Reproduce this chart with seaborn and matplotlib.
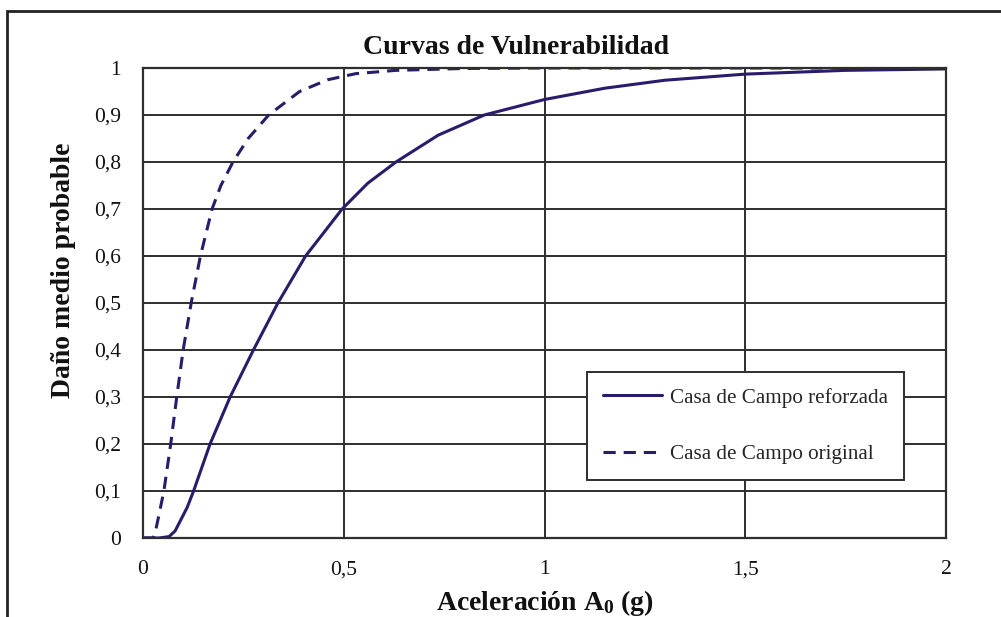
import numpy as np
import pandas as pd
import matplotlib
matplotlib.use("Agg")
import matplotlib.pyplot as plt
from matplotlib.ticker import FuncFormatter, MultipleLocator
import seaborn as sns

# Vulnerability curves: mean probable damage vs ground acceleration
acc_reforzada = [0, 0.04, 0.065, 0.08, 0.095, 0.11, 0.126, 0.167, 0.217, 0.275,
                 0.336, 0.405, 0.496, 0.56, 0.63, 0.735, 0.85, 1.0, 1.15,
                 1.3, 1.5, 1.75, 2.0]
dano_reforzada = [0, 0, 0.003, 0.015, 0.04, 0.065, 0.1, 0.2, 0.3, 0.4,
                  0.5, 0.6, 0.7, 0.755, 0.8, 0.857, 0.9, 0.933, 0.957,
                  0.974, 0.987, 0.995, 0.998]

acc_original = [0, 0.025, 0.03, 0.04, 0.052, 0.069, 0.084, 0.1, 0.12, 0.143,
                0.172, 0.194, 0.224, 0.262, 0.313, 0.39, 0.46, 0.53, 0.63,
                0.8, 1.0, 1.5, 2.0]
dano_original = [0, 0, 0.01, 0.05, 0.1, 0.2, 0.3, 0.4, 0.5, 0.6,
                 0.7, 0.75, 0.8, 0.85, 0.9, 0.95, 0.975, 0.988, 0.995,
                 0.999, 1.0, 1.0, 1.0]

label_reforzada = "Casa de Campo reforzada"
label_original = "Casa de Campo original"

sns.set_theme(style="white")
plt.rcParams["font.family"] = ["Liberation Serif", "DejaVu Serif"]
plt.rcParams["mathtext.fontset"] = "custom"
plt.rcParams["mathtext.rm"] = "Liberation Serif"
plt.rcParams["mathtext.bf"] = "Liberation Serif:bold"

line_color = "#2b1b6b"
grid_color = "#2e2e2e"
text_color = "#111111"

df_ref = pd.DataFrame({"acc": acc_reforzada, "dano": dano_reforzada})
df_ori = pd.DataFrame({"acc": acc_original, "dano": dano_original})

fig = plt.figure(figsize=(10.01, 6.17), dpi=100)
ax = fig.add_axes([143 / 1001, 1 - 538 / 617, (946 - 143) / 1001, (538 - 68) / 617])

sns.lineplot(data=df_ref, x="acc", y="dano", ax=ax, color=line_color,
             linewidth=2.2, label=label_reforzada)
sns.lineplot(data=df_ori, x="acc", y="dano", ax=ax, color=line_color,
             linewidth=2.2, label=label_original)
ax.lines[1].set_linestyle((0, (4, 2.6)))
for ln in ax.lines:
    ln.set_solid_joinstyle("round")
    ln.set_dash_joinstyle("round")

ax.set_xlim(0, 2)
ax.set_ylim(0, 1)
ax.xaxis.set_major_locator(MultipleLocator(0.5))
ax.yaxis.set_major_locator(MultipleLocator(0.1))

def comma_fmt(v, pos):
    s = f"{v:.1f}".rstrip("0").rstrip(".")
    return s.replace(".", ",")

ax.xaxis.set_major_formatter(FuncFormatter(comma_fmt))
ax.yaxis.set_major_formatter(FuncFormatter(comma_fmt))
ax.tick_params(axis="both", which="major", length=0, labelsize=15.5,
               labelcolor=text_color)
ax.tick_params(axis="x", pad=16)
ax.tick_params(axis="y", pad=16)

ax.grid(True, which="major", color=grid_color, linewidth=1.4)
ax.set_axisbelow(True)
for sp in ax.spines.values():
    sp.set_visible(True)
    sp.set_color(grid_color)
    sp.set_linewidth(1.6)

ax.set_title("Curvas de Vulnerabilidad", fontsize=20, fontweight="bold",
             pad=10, color=text_color, x=0.465)
ax.set_xlabel(r"Aceleración $\mathbf{A_0}$ (g)", fontsize=20,
              fontweight="bold", labelpad=6, color=text_color)
ax.set_ylabel("Daño medio probable", fontsize=20, fontweight="bold",
              color=text_color)
ax.yaxis.set_label_coords(-0.083, 0.57)

leg = ax.legend(loc="lower left", bbox_to_anchor=(0.553, 0.123),
                fontsize=15.2, frameon=True, fancybox=False,
                borderpad=0.75, labelspacing=1.75, handlelength=2.8,
                handletextpad=0.4, borderaxespad=0)
leg.get_frame().set_edgecolor(grid_color)
leg.get_frame().set_linewidth(1.4)
leg.get_frame().set_alpha(1)

# Outer frame around the figure
fig.patches.append(plt.Rectangle((7 / 1001, -0.05), 1.2, 1 - 11 / 617 + 0.05,
                                 transform=fig.transFigure, fill=False,
                                 edgecolor="#222222", linewidth=2.0))

fig.savefig("out.png", dpi=100)
